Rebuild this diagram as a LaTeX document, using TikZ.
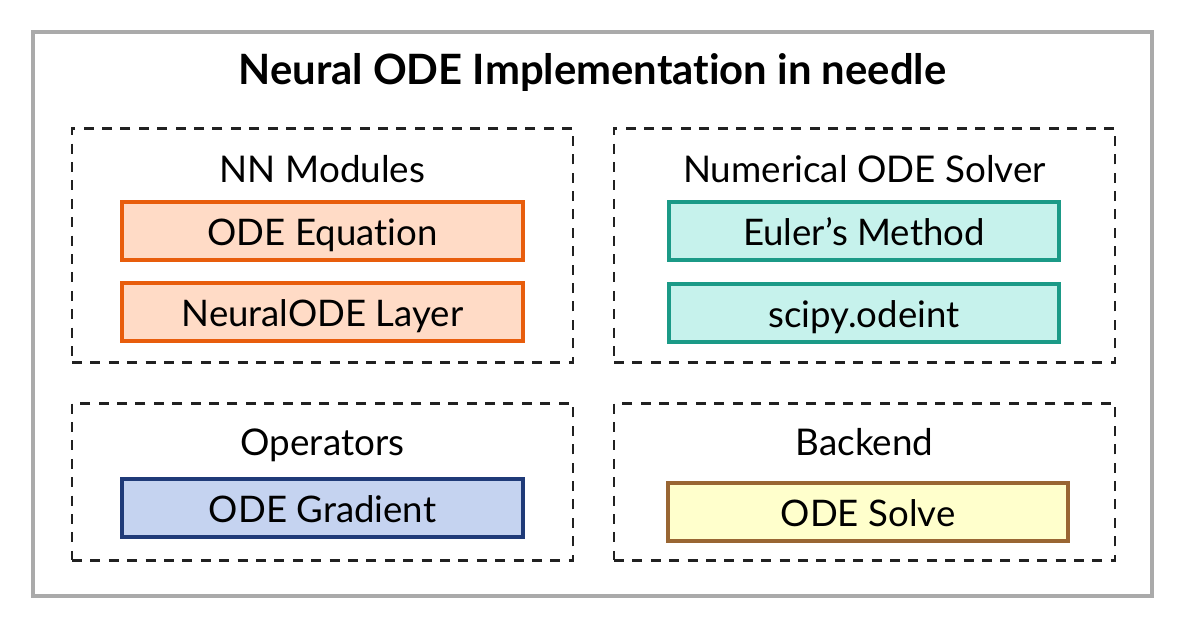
\documentclass[tikz,border=0pt]{standalone}
\usepackage{fontspec}
\setmainfont{Lato}[Ligatures=NoCommon]
\usepackage{xcolor}
\usepackage{tikz}
\usetikzlibrary{positioning}
\definecolor{outergray}{HTML}{AAAAAA}
\definecolor{nnline}{HTML}{E85D0C}
\definecolor{nnfill}{HTML}{FFDBC6}
\definecolor{solverline}{HTML}{1B9A87}
\definecolor{solverfill}{HTML}{C6F2EC}
\definecolor{opline}{HTML}{1F3A78}
\definecolor{opfill}{HTML}{C5D3F0}
\definecolor{backline}{HTML}{996633}
\definecolor{backfill}{HTML}{FFFFCC}
\tikzset{
  group/.style={draw=black!87, dashed, dash pattern=on 5pt off 4.2pt, line width=1.3pt,
    minimum width=250.5pt, inner sep=0pt},
  part/.style={line width=1.75pt, minimum height=29pt, inner sep=0pt,
    text height=15pt, text depth=0pt, font=\fontsize{18.3}{20}\selectfont},
  grouplabel/.style={font=\fontsize{18.4}{20}\selectfont, inner sep=0pt, anchor=base},
}

\begin{document}
\begin{tikzpicture}[x=0.5pt,y=-0.5pt]
	\useasboundingbox (0,0) rectangle (1179,624);
	\draw[outergray, line width=1.6pt] (33,32) rectangle (1152,596);
	\node[font=\fontsize{20.9}{23}\bfseries, inner sep=0pt, anchor=base] (title) at (592.5,85) {Neural ODE Implementation in needle};
	% the four groups
	\node[group, minimum height=117pt] (nnbox) at (322.5,245.5) {};
	\node[group, minimum height=117pt] (solverbox) at (864.5,245.5) {};
	\node[group, minimum height=78.5pt] (opbox) at (322.5,482) {};
	\node[group, minimum height=78.5pt] (backbox) at (864.5,482) {};
	\node[grouplabel] (nnlabel) at (322.5,182.5) {NN Modules};
	\node[grouplabel] (solverlabel) at (864.5,182.5) {Numerical ODE Solver};
	\node[grouplabel] (oplabel) at (322.5,456) {Operators};
	\node[grouplabel] (backlabel) at (864.5,456) {Backend};
	% the parts
	\node[part, draw=nnline, fill=nnfill, minimum width=200.5pt] (odeeq) at (322.5,231) {ODE Equation};
	\node[part, draw=nnline, fill=nnfill, minimum width=200.5pt] (nodelayer) at (322.5,312) {NeuralODE Layer};
	\node[part, draw=solverline, fill=solverfill, minimum width=195pt] (euler) at (864,231) {Euler’s Method};
	\node[part, draw=solverline, fill=solverfill, minimum width=195pt] (odeint) at (864,313) {scipy.odeint};
	\node[part, draw=opline, fill=opfill, minimum width=200.5pt] (odegrad) at (322.5,508) {ODE Gradient};
	\node[part, draw=backline, fill=backfill, minimum width=200pt] (odesolve) at (868,512) {ODE Solve};
\end{tikzpicture}
\end{document}
